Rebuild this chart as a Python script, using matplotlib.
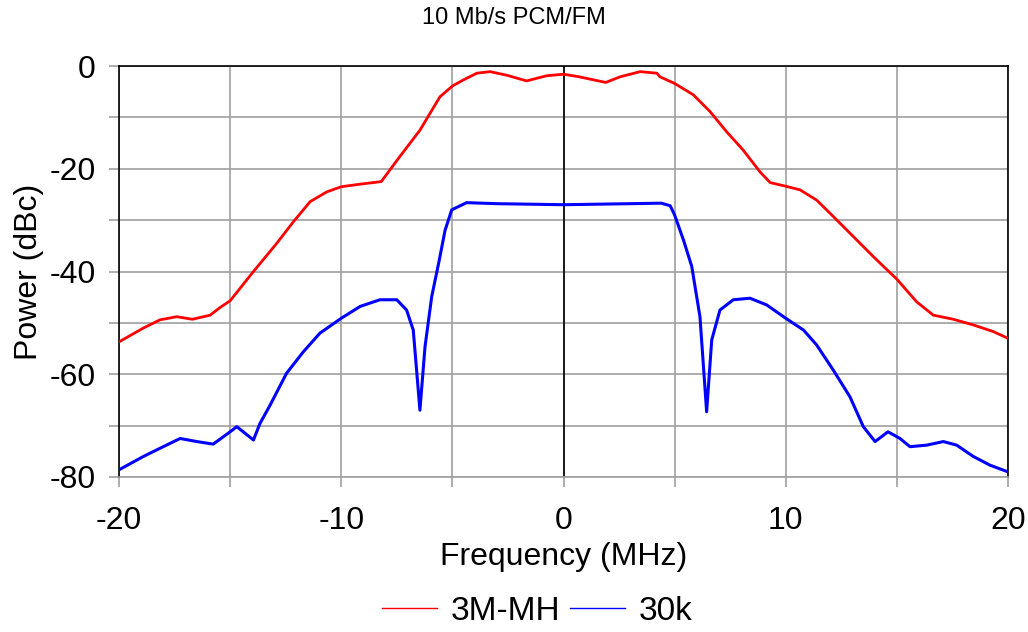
import numpy as np
import matplotlib
matplotlib.use("Agg")
import matplotlib.pyplot as plt

plt.rcParams['font.family'] = ['Liberation Sans', 'DejaVu Sans']

# 3M-MH (red) spectrum
red_freq = [-20.0, -18.9, -18.15, -17.4, -16.7, -15.9, -15.45, -15.0, -13.95, -12.9,
            -12.15, -11.4, -10.65, -10.0, -9.15, -8.2, -7.36, -6.46, -5.56,
            -5.0, -4.5, -3.9, -3.3, -2.55, -1.66, -0.76, 0.0, 0.7, 1.9,
            2.55, 3.45, 4.2, 4.34, 5.0, 5.84, 6.6, 7.34, 8.09, 8.84,
            9.3, 10.0, 10.64, 11.39, 12.14, 13.04, 13.94, 15.0, 15.89, 16.64,
            17.54, 18.44, 19.34, 20.0]
red_db = [-53.7, -51.0, -49.4, -48.8, -49.3, -48.5, -47.0, -45.7, -40.0, -34.5,
          -30.3, -26.4, -24.5, -23.5, -23.0, -22.5, -17.6, -12.5, -6.0,
          -3.9, -2.7, -1.4, -1.1, -1.8, -2.9, -1.9, -1.6, -2.1, -3.2,
          -2.1, -1.1, -1.4, -2.1, -3.4, -5.6, -8.9, -12.8, -16.4, -20.6,
          -22.7, -23.4, -24.1, -26.1, -29.3, -33.2, -37.1, -41.5, -45.9, -48.5,
          -49.3, -50.4, -51.7, -53.0]

# 30k (blue) spectrum
blue_freq = [-20.0, -18.9, -18.15, -17.25, -16.5, -15.76, -15.0, -14.7, -13.95, -13.66,
             -13.2, -12.46, -11.7, -10.96, -10.0, -9.15, -8.26, -7.5, -7.06, -6.76,
             -6.46, -6.23, -5.93, -5.6, -5.33, -5.03, -4.36, -3.0, -1.5, 0.0,
             1.5, 3.0, 4.4, 4.8, 5.0, 5.4, 5.77, 6.14, 6.44, 6.67,
             7.04, 7.64, 8.39, 9.14, 10.0, 10.8, 11.39, 12.14, 12.89, 13.49,
             14.02, 14.6, 15.14, 15.59, 16.34, 17.09, 17.69, 18.44, 19.19, 20.0]
blue_db = [-78.6, -76.0, -74.4, -72.5, -73.1, -73.6, -71.2, -70.2, -72.8, -69.6,
           -66.0, -59.8, -55.6, -52.0, -49.1, -46.8, -45.5, -45.5, -47.5, -51.4,
           -67.0, -54.6, -44.9, -38.0, -32.0, -28.0, -26.6, -26.8, -26.9, -27.0,
           -26.9, -26.8, -26.7, -27.2, -29.0, -33.9, -39.0, -48.8, -67.3, -53.3,
           -47.5, -45.5, -45.2, -46.5, -49.1, -51.4, -54.3, -59.2, -64.4, -70.2,
           -73.1, -71.2, -72.5, -74.1, -73.8, -73.1, -73.8, -76.0, -77.7, -79.0]

fig = plt.figure(figsize=(10.28, 6.32), dpi=100)
ax = fig.add_axes([119 / 1028, 1 - 477 / 632, 889 / 1028, 411 / 632])

ax.plot(red_freq, red_db, color='#ff0000', lw=2.0, label='3M-MH', zorder=3)
ax.plot(blue_freq, blue_db, color='#0000ff', lw=2.2, label='30k', zorder=3)

ax.set_xlim(-20, 20)
ax.set_ylim(-80, 0)
ax.set_xticks(np.arange(-20, 21, 5))
ax.set_xticklabels(['-20', '', '-10', '', '0', '', '10', '', '20'])
ax.set_yticks(np.arange(-80, 1, 10))
ax.set_yticklabels(['-80', '', '-60', '', '-40', '', '-20', '', '0'])
ax.grid(True, color='#a0a0a0', lw=1.2, zorder=1)
ax.axvline(0, color='black', lw=1.2, zorder=2)
ax.tick_params(direction='out', color='#a0a0a0', width=1.2, length=7, labelsize=23)
ax.tick_params(axis='x', pad=14)
ax.tick_params(axis='y', pad=10)

for side in ['top', 'left', 'right']:
    ax.spines[side].set_color('black')
    ax.spines[side].set_linewidth(1.2)
ax.spines['bottom'].set_color('#a0a0a0')
ax.spines['bottom'].set_linewidth(1.2)

ax.set_xlabel('Frequency (MHz)', fontsize=23, labelpad=4)
ax.set_ylabel('Power (dBc)', fontsize=23, labelpad=4)
fig.text(0.5, 1 - 18 / 632, '10 Mb/s PCM/FM', ha='center', va='center', fontsize=17)

leg = ax.legend(loc='center', bbox_to_anchor=(537.5 / 1028, (632 - 611) / 632), bbox_transform=fig.transFigure,
                ncol=2, frameon=False, fontsize=24, handlelength=1.65, handletextpad=0.4, columnspacing=0.3)
for h in leg.get_lines():
    h.set_linewidth(1.0)

fig.savefig('out.png', dpi=100)
